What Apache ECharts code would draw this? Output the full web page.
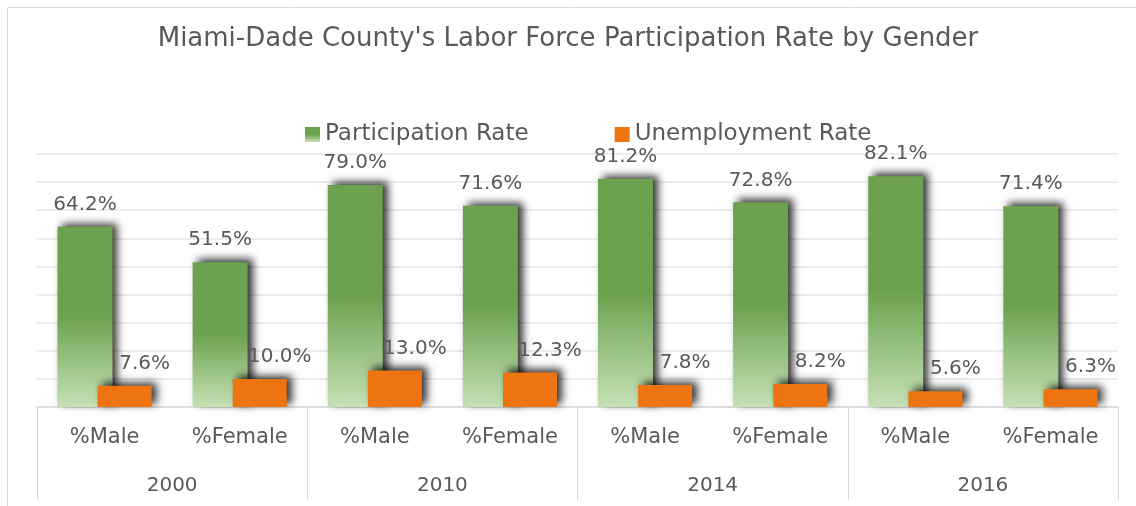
<!DOCTYPE html>
<html>
<head>
<meta charset="utf-8">
<script src="https://cdn.jsdelivr.net/npm/echarts@6/dist/echarts.min.js"></script>
<style>
  html, body { margin: 0; padding: 0; background: #fff; }
  #chartBox { width: 1136px; height: 506px; }
</style>
</head>
<body>
<div id="chartBox"></div>
<script>
// 数据
var genders = ['%Male', '%Female', '%Male', '%Female', '%Male', '%Female', '%Male', '%Female'];
var years = ['2000', '2010', '2014', '2016'];
var participation = [64.2, 51.5, 79.0, 71.6, 81.2, 72.8, 82.1, 71.4];
var unemployment = [7.6, 10.0, 13.0, 12.3, 7.8, 8.2, 5.6, 6.3];

var fontName = 'DejaVu Sans';
var textColor = '#595959';

var greenFill = new echarts.graphic.LinearGradient(0, 0, 0, 1, [
    { offset: 0, color: '#6ca24f' },
    { offset: 0.5, color: '#6ca24f' },
    { offset: 1, color: '#c6e1b5' }
]);

var barShadow = {
    shadowColor: 'rgba(0,0,0,0.8)',
    shadowBlur: 8,
    shadowOffsetX: 5,
    shadowOffsetY: -3
};

var myChart = echarts.init(document.getElementById('chartBox'));

var option = {
    backgroundColor: '#fff',
    textStyle: { fontFamily: fontName },
    title: {
        text: "Miami-Dade County's Labor Force Participation Rate by Gender",
        left: 'center',
        top: 21,
        textStyle: {
            fontSize: 26,
            fontWeight: 'normal',
            color: textColor,
            fontFamily: fontName
        }
    },
    graphic: [{
        type: 'rect',
        shape: { x: 7.5, y: 7.5, width: 1140, height: 520 },
        style: { fill: 'none', stroke: '#d9d9d9', lineWidth: 1 },
        silent: true
    }],
    legend: {
        left: 300,
        top: 118,
        itemWidth: 15,
        itemHeight: 15,
        itemGap: 86,
        icon: 'rect',
        textStyle: { fontSize: 23, color: textColor, fontFamily: fontName },
        data: ['Participation Rate', 'Unemployment Rate']
    },
    grid: {
        left: 37,
        right: 18,
        top: 154,
        bottom: 99,
        containLabel: false
    },
    xAxis: [
        {
            type: 'category',
            data: genders,
            axisLine: { lineStyle: { color: '#d9d9d9', width: 1.5 } },
            axisTick: { show: false },
            axisLabel: {
                color: textColor,
                fontSize: 21,
                margin: 20,
                interval: 0
            }
        },
        {
            type: 'category',
            data: years,
            position: 'bottom',
            axisLine: { show: false },
            axisTick: {
                show: true,
                length: 93,
                lineStyle: { color: '#d9d9d9', width: 1 }
            },
            axisLabel: {
                color: textColor,
                fontSize: 20,
                margin: 69,
                interval: 0
            }
        }
    ],
    yAxis: {
        type: 'value',
        min: 0,
        max: 90,
        interval: 10,
        axisLine: { show: false },
        axisTick: { show: false },
        axisLabel: { show: false },
        splitLine: { lineStyle: { color: '#ececec', width: 2 } }
    },
    series: [
        {
            name: 'Participation Rate',
            type: 'bar',
            xAxisIndex: 0,
            data: participation,
            barWidth: 55,
            barGap: '-27%',
            itemStyle: Object.assign({ color: greenFill }, barShadow),
            label: {
                show: true,
                position: 'top',
                distance: 12,
                color: textColor,
                fontSize: 20,
                fontFamily: fontName,
                formatter: function (p) { return p.value.toFixed(1) + '%'; }
            }
        },
        {
            name: 'Unemployment Rate',
            type: 'bar',
            xAxisIndex: 0,
            data: unemployment,
            barWidth: 54,
            itemStyle: Object.assign({ color: '#ee7411' }, barShadow),
            label: {
                show: true,
                position: 'top',
                distance: 12,
                offset: [20, 0],
                color: textColor,
                fontSize: 20,
                fontFamily: fontName,
                formatter: function (p) { return p.value.toFixed(1) + '%'; }
            }
        }
    ]
};

myChart.setOption(option);
</script>
</body>
</html>
